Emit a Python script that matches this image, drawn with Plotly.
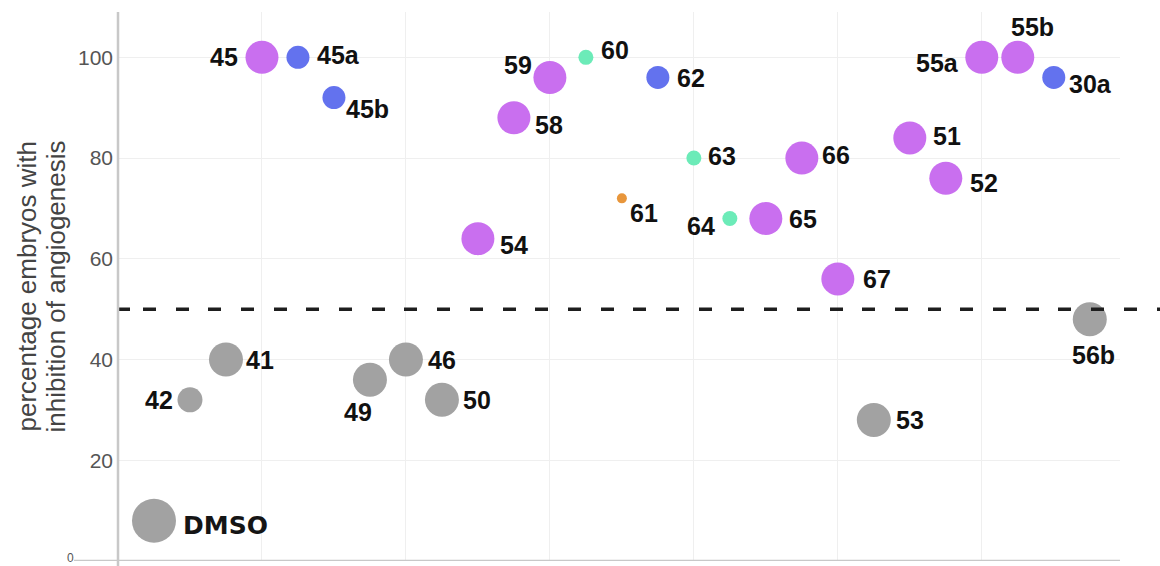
import plotly.graph_objects as go

# ---------------- data ----------------
compounds = ["DMSO", "42", "41", "45", "45a", "45b", "49", "46", "50", "54",
             "58", "59", "60", "61", "62", "63", "64", "65", "66", "67",
             "53", "51", "52", "55a", "55b", "30a", "56b"]
x_pos = [2.5, 5, 7.5, 10, 12.5, 15, 17.5, 20, 22.5, 25,
         27.5, 30, 32.5, 35, 37.5, 40, 42.5, 45, 47.5, 50,
         52.5, 55, 57.5, 60, 62.5, 65, 67.5]
inhibition = [8, 32, 40, 100, 100, 92, 36, 40, 32, 64,
              88, 96, 100, 72, 96, 80, 68, 68, 80, 56,
              28, 84, 76, 100, 100, 96, 48]
group = ["control", "inactive", "inactive", "A", "B", "B", "inactive", "inactive", "inactive", "A",
         "A", "A", "C", "D", "B", "C", "C", "A", "A", "A",
         "inactive", "A", "A", "A", "A", "B", "inactive"]
y_ticks = [20, 40, 60, 80, 100]
y_zero_label = "0"
threshold = 50

# ---------------- styles ----------------
group_color = {"control": "#a2a2a2", "inactive": "#a2a2a2", "A": "#c96fef",
               "B": "#6372ee", "C": "#6cebb8", "D": "#e8963b"}
group_size = {"control": 44, "inactive": 34, "A": 33, "B": 23, "C": 15, "D": 10}
size_override = {"42": 25}

# label placement: (xanchor, xshift, yshift) in pixels
label_pos = {
    "DMSO": ("left", 27, -5), "42": ("right", -15, 0), "41": ("left", 18, 0),
    "45": ("right", -22, 0), "45a": ("left", 17, 2), "45b": ("left", 10, -11),
    "49": ("center", -12, -32), "46": ("left", 20, 0), "50": ("left", 19, 0),
    "54": ("left", 20, -6), "58": ("left", 19, -7), "59": ("right", -16, 12),
    "60": ("left", 13, 7), "61": ("left", 6, -15), "62": ("left", 17, -1),
    "63": ("left", 12, 2), "64": ("right", -13, -7), "65": ("left", 21, 0),
    "66": ("left", 18, 3), "67": ("left", 23, 0), "53": ("left", 20, 0),
    "51": ("left", 21, 2), "52": ("left", 22, -5), "55a": ("right", -21, -6),
    "55b": ("center", 15, 30), "30a": ("left", 13, -7), "56b": ("center", 4, -36),
}

colors = [group_color[g] for g in group]
sizes = [size_override.get(c, group_size[g]) for c, g in zip(compounds, group)]

fig = go.Figure()
fig.add_trace(go.Scatter(
    x=x_pos, y=inhibition, mode="markers",
    marker=dict(color=colors, size=sizes, line=dict(width=0), opacity=1),
    text=compounds, hoverinfo="text", showlegend=False,
))

annotations = []
for c, xv, yv in zip(compounds, x_pos, inhibition):
    xa, xs, ys = label_pos[c]
    if c == "DMSO":
        fnt = dict(family="DejaVu Sans", size=25, color="#151515", weight="bold")
    else:
        fnt = dict(family="Liberation Sans, Arial", size=25, color="#111111", weight="bold")
    annotations.append(dict(
        x=xv, y=yv, xref="x", yref="y", text=c, showarrow=False,
        xanchor=xa, yanchor="middle", xshift=xs, yshift=ys, font=fnt,
    ))

plot_w = 1160 - 118 - 40

# y axis title (two lines, rotated)
title_font = dict(family="Liberation Sans, Arial", size=26, color="#444444")
annotations.append(dict(x=0, y=0.5, xref="paper", yref="paper",
                        text="percentage embryos with", textangle=-90,
                        showarrow=False, xanchor="center", yanchor="middle",
                        xshift=-92, font=title_font))
annotations.append(dict(x=0, y=0.5, xref="paper", yref="paper",
                        text="inhibition of angiogenesis", textangle=-90,
                        showarrow=False, xanchor="center", yanchor="middle",
                        xshift=-63, font=title_font))
# the small "0" label at the origin
annotations.append(dict(x=0, y=0, xref="paper", yref="y", text=y_zero_label,
                        showarrow=False, xanchor="center", yanchor="middle",
                        xshift=-48, yshift=3,
                        font=dict(family="Liberation Sans, Arial", size=12, color="#555555")))

# dashed threshold line pattern (style only)
periods = [33, 32, 33, 33, 32, 33, 33, 32, 33, 33]
dash = ["12px", "13px"]
for _ in range(4):
    for p in periods:
        dash += ["13px", f"{p - 13}px"]
dash_str = ",".join(dash)

shapes = [
    # threshold
    dict(type="line", xref="paper", yref="y", x0=0, x1=(1160 - 118) / plot_w,
         y0=threshold, y1=threshold,
         line=dict(color="#1e1e1e", width=3.5, dash=dash_str), layer="above"),
    # left axis line
    dict(type="line", xref="paper", yref="paper", x0=0, x1=0, y0=1, y1=-0.03,
         line=dict(color="#c8c8c8", width=2.5), layer="above"),
    # bottom axis line
    dict(type="line", xref="paper", yref="y", x0=(74 - 118) / plot_w, x1=1,
         y0=0, y1=0, line=dict(color="#c8c8c8", width=2.5), layer="above"),
]

fig.update_layout(
    width=1160, height=566,
    margin=dict(l=118, r=40, t=12, b=5, pad=0, autoexpand=False),
    paper_bgcolor="white", plot_bgcolor="white",
    showlegend=False,
    annotations=annotations,
    shapes=shapes,
    xaxis=dict(range=[0, 69.6], tickvals=[10, 20, 30, 40, 50, 60],
               showticklabels=False, showgrid=True, gridcolor="#efefef",
               gridwidth=1, zeroline=False, showline=False, ticks="",
               automargin=False),
    yaxis=dict(range=[0, 109], tickvals=y_ticks, showgrid=True,
               gridcolor="#efefef", gridwidth=1, zeroline=False,
               showline=False, ticks="", ticklabelstandoff=4, automargin=False,
               tickfont=dict(family="Liberation Sans, Arial", size=21, color="#555555")),
)

fig.write_html("out.html", config={"displayModeBar": False},
               post_script="document.body.style.margin='0px';document.body.style.overflow='hidden';")
